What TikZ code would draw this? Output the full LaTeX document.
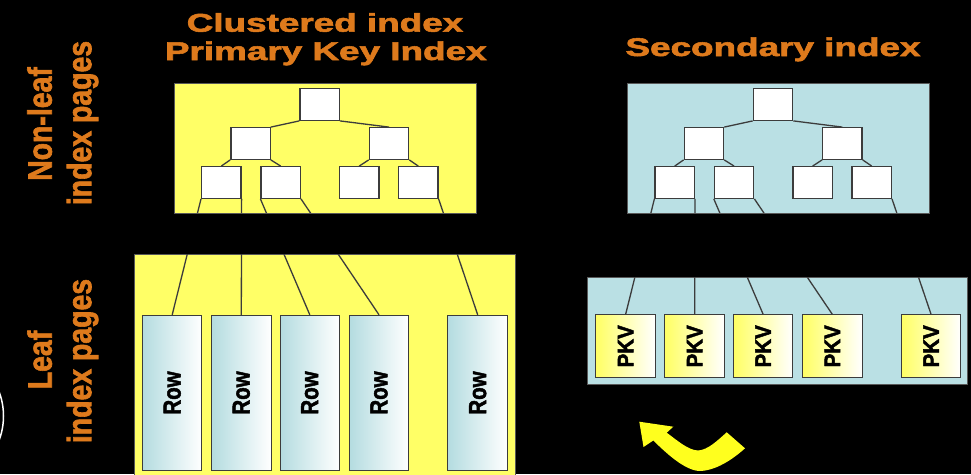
\documentclass[tikz,border=0pt]{standalone}
\usepackage{fontspec}
\setmainfont{Liberation Sans}
\newfontfamily\heavy{Liberation Sans Bold}[FakeBold=2]
\usepackage{graphicx}
\definecolor{orng}{RGB}{222,122,28}
\definecolor{yel}{RGB}{255,255,102}
\definecolor{lblue}{RGB}{186,224,228}
\definecolor{edgec}{RGB}{60,60,60}
\definecolor{rowblue}{RGB}{180,220,224}
\definecolor{pkvyel}{RGB}{255,255,100}
\definecolor{arrowyel}{RGB}{255,255,30}
\begin{document}
\begin{tikzpicture}[x=1pt,y=-1pt,
  panelline/.style={draw=edgec!85, line width=0.8pt},
  tnode/.style={draw=edgec, fill=white, line width=1.3pt, minimum width=39.3pt, minimum height=31.5pt, inner sep=0pt},
  rowbox/.style={draw=edgec, line width=1pt, left color=rowblue, right color=white, minimum width=59.5pt, minimum height=155.4pt, inner sep=0pt, font=\fontsize{20.5}{22}\heavy},
  pkvbox/.style={draw=edgec, line width=1pt, left color=pkvyel, right color=white, minimum width=59.5pt, minimum height=62.7pt, inner sep=0pt, font=\fontsize{20.5}{22}\heavy},
  conn/.style={draw=edgec, line width=1.3pt},
  title/.style={text=orng, font=\fontsize{25.6}{28}\heavy, anchor=base, inner sep=0pt},
  side/.style={text=orng, font=\fontsize{29.3}{30}\heavy, rotate=90, anchor=base, inner sep=0pt},
]
\fill[black] (0,0) rectangle (971,474);
\useasboundingbox (0,0) rectangle (971,474);

% white arc at left edge
\draw[white, line width=1.5pt] (-65,416) circle (68.5);

% panels
\filldraw[fill=yel, panelline] (174,83) rectangle (476,213);
\filldraw[fill=lblue, panelline] (627,83) rectangle (929,213);
\filldraw[fill=yel, panelline] (134.3,254) rectangle (515.7,490);
\filldraw[fill=lblue, panelline] (587.3,277.3) rectangle (967.3,384);

% titles
\node[title] (t1) at (325,31.7) {\scalebox{1.44}[1]{Clustered index}};
\node[title] (t2) at (325.8,60) {\scalebox{1.44}[1]{Primary Key Index}};
\node[title] (t3) at (773,56) {\scalebox{1.44}[1]{Secondary index}};

% side labels
\node[side] (s1) at (51.7,124) {\scalebox{0.97}[1.15]{Non-leaf}};
\node[side] (s2) at (91.2,123) {\scalebox{0.97}[1.15]{index pages}};
\node[side] (s3) at (51.7,360) {\scalebox{0.97}[1.15]{Leaf}};
\node[side] (s4) at (91.2,361) {\scalebox{0.97}[1.15]{index pages}};

% trees
\foreach \dx/\pre in {0/L, 453.4/S} {
\begin{scope}[xshift=\dx pt, name prefix=\pre]
  \node[tnode] (root) at (319.6,104.5) {};
  \node[tnode] (a) at (250.5,143.5) {};
  \node[tnode] (b) at (389,143.5) {};
  \node[tnode] (aa) at (221.3,182.5) {};
  \node[tnode] (ab) at (280.7,182.5) {};
  \node[tnode] (ba) at (359.2,182.5) {};
  \node[tnode] (bb) at (418.3,182.5) {};
  \draw[conn] (root.south west) -- (a.north east);
  \draw[conn] (root.south east) -- (b.north);
  \draw[conn] (a.south west) -- (aa.north);
  \draw[conn] (a.south east) -- (ab.north);
  \draw[conn] (b.south west) -- (ba.north);
  \draw[conn] (b.south east) -- (bb.north);
\end{scope}
}

% leaf rows
\node[rowbox] (r1) at (172.2,393) {\rotatebox{90}{\scalebox{1}[1.2]{Row}}};
\node[rowbox] (r2) at (241.3,393) {\rotatebox{90}{\scalebox{1}[1.2]{Row}}};
\node[rowbox] (r3) at (309.8,393) {\rotatebox{90}{\scalebox{1}[1.2]{Row}}};
\node[rowbox] (r4) at (379,393) {\rotatebox{90}{\scalebox{1}[1.2]{Row}}};
\node[rowbox] (r5) at (477.7,393) {\rotatebox{90}{\scalebox{1}[1.2]{Row}}};

\node[pkvbox] (p1) at (625.6,346.3) {\rotatebox{90}{\scalebox{1}[1.1]{PKV}}};
\node[pkvbox] (p2) at (694.7,346.3) {\rotatebox{90}{\scalebox{1}[1.1]{PKV}}};
\node[pkvbox] (p3) at (763.2,346.3) {\rotatebox{90}{\scalebox{1}[1.1]{PKV}}};
\node[pkvbox] (p4) at (832.4,346.3) {\rotatebox{90}{\scalebox{1}[1.1]{PKV}}};
\node[pkvbox] (p5) at (931.1,346.3) {\rotatebox{90}{\scalebox{1}[1.1]{PKV}}};

% leaf connectors, visible only over the panels
\begin{scope}
\clip (174,83) rectangle (476,213) (627,83) rectangle (929,213)
      (134.3,254) rectangle (515.7,490) (587.3,277.3) rectangle (967.3,384);
\draw[conn] (Laa.south west) -- (r1.north);
\draw[conn] (Laa.south east) -- (r2.north);
\draw[conn] (Lab.south west) -- (r3.north);
\draw[conn] (Lab.south east) -- (r4.north);
\draw[conn] (Lbb.south east) -- (r5.north);
\draw[conn] (Saa.south west) -- (p1.north);
\draw[conn] (Saa.south east) -- (p2.north);
\draw[conn] (Sab.south west) -- (p3.north);
\draw[conn] (Sab.south east) -- (p4.north);
\draw[conn] (Sbb.south east) -- (p5.north);
\end{scope}

% yellow curved arrow
\fill[arrowyel] (639.3,421.7) -- (673.3,426.7) -- (666.7,432.7)
  .. controls (678,441) and (688,450) .. (698,450.5)
  .. controls (708,450) and (718,440) .. (726.7,432.3)
  -- (745,448.3)
  .. controls (732,460) and (715,471) .. (699,471)
  .. controls (684,470) and (665,452) .. (653.3,440.5)
  -- (643.5,447) -- cycle;
\end{tikzpicture}
\end{document}
